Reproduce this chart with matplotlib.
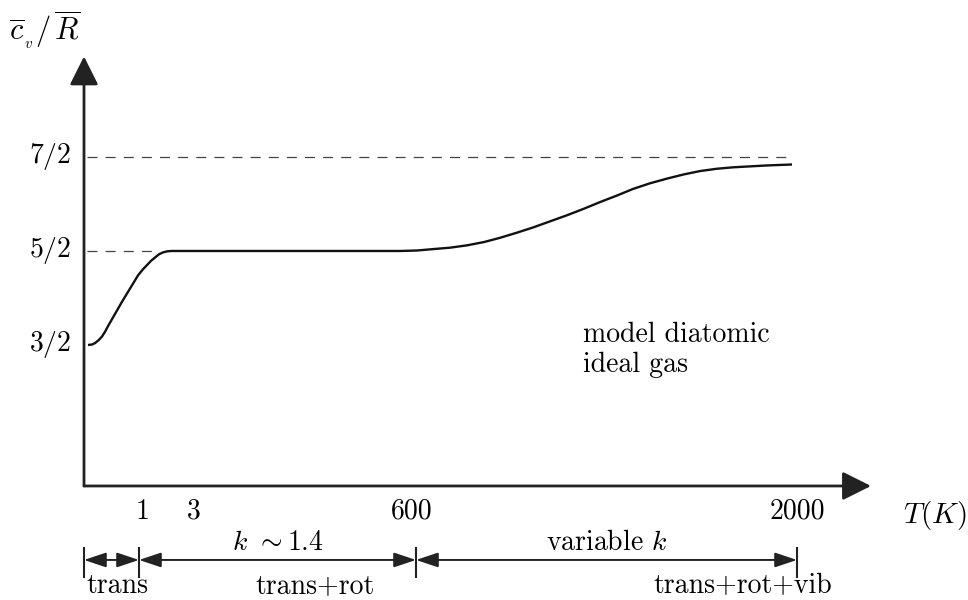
import matplotlib
matplotlib.use("Agg")
import matplotlib.pyplot as plt

# schematic x position (diagram units) and cv/R value of the curve
curve_x = [0.04, 0.08, 0.11, 0.145, 0.18, 0.21, 0.24, 0.275, 0.31, 0.345, 0.38, 0.42,
           0.46, 0.50, 0.54, 0.585, 0.63, 0.67, 0.71, 0.75, 0.79, 0.835, 0.88, 0.96,
           3.16, 3.33, 3.49, 3.66, 3.83, 4.00, 4.16, 4.33, 4.49, 4.66, 4.83, 5.00,
           5.16, 5.33, 5.49, 5.66, 5.83, 6.00, 6.16, 6.33, 6.49, 6.66, 6.83, 7.08]
curve_y = [1.50, 1.505, 1.52, 1.55, 1.59, 1.64, 1.70, 1.765, 1.83, 1.895, 1.96, 2.03,
           2.10, 2.17, 2.24, 2.30, 2.35, 2.395, 2.43, 2.465, 2.485, 2.497, 2.50, 2.50,
           2.50, 2.505, 2.52, 2.535, 2.56, 2.595, 2.64, 2.695, 2.75, 2.815, 2.88, 2.95,
           3.02, 3.09, 3.16, 3.22, 3.27, 3.315, 3.35, 3.375, 3.39, 3.40, 3.41, 3.42]

level_values = [1.5, 2.5, 3.5]
level_labels = ["$3/2$", "$5/2$", "$7/2$"]

T_labels = ["1", "3", "600", "2000"]
T_label_pos = [0.59, 1.10, 3.28, 7.13]

region_bounds = [0.0, 0.55, 3.32, 7.13]
region_k = ["", r"$k$ $\sim$1.4", "variable $k$"]
region_modes = ["trans", "trans+rot", "trans+rot+vib"]


def main():
    plt.rcParams["font.family"] = ["cmr10", "DejaVu Serif"]
    plt.rcParams["mathtext.fontset"] = "cm"
    plt.rcParams["axes.formatter.use_mathtext"] = True
    size = 20

    fig = plt.figure(figsize=(9.68, 6), dpi=100)
    ax = fig.add_axes([0, 0, 1, 1])
    ax.set_xlim(-0.84, 8.84)
    ax.set_ylim(-1.213, 5.170)
    ax.axis("off")

    # axes with arrow heads
    ax.annotate("", xy=(7.87, 0), xytext=(0, 0),
                arrowprops=dict(arrowstyle="-|>,head_length=0.8,head_width=0.4",
                                lw=2, color="#222222", mutation_scale=22,
                                shrinkA=0, shrinkB=0))
    ax.annotate("", xy=(0, 4.57), xytext=(0, 0),
                arrowprops=dict(arrowstyle="-|>,head_length=0.8,head_width=0.4",
                                lw=2, color="#222222", mutation_scale=22,
                                shrinkA=0, shrinkB=0))

    # dashed reference levels
    ax.plot([0.03, 0.68], [level_values[1], level_values[1]], color="#444444",
            lw=0.9, dashes=[8, 6.5])
    ax.plot([0.03, 7.06], [level_values[2], level_values[2]], color="#444444",
            lw=0.9, dashes=[8, 6.5])

    ax.plot(curve_x, curve_y, color="#111111", lw=1.7, solid_capstyle="butt",
            solid_joinstyle="round")

    for v, lab in zip(level_values, level_labels):
        ax.text(-0.13, v, lab, ha="right", va="center", fontsize=size)

    for p, lab in zip(T_label_pos, T_labels):
        ax.text(p, -0.27, lab, ha="center", va="center", fontsize=size)

    ax.text(8.51, -0.31, "$T(K)$", ha="center", va="center", fontsize=size + 1)
    ax.text(-0.39, 4.85, r"$\overline{c}_{_v}/\,\overline{R}$", ha="center",
            va="center", fontsize=size + 2)

    ax.text(4.99, 1.45, "model diatomic\nideal gas", ha="left", va="center",
            fontsize=size, linespacing=1.15)

    # regime arrows below the axis
    for b in region_bounds:
        ax.plot([b, b], [-0.66, -0.97], color="#222222", lw=1.5)
    for i in range(len(region_bounds) - 1):
        x0, x1 = region_bounds[i], region_bounds[i + 1]
        ax.annotate("", xy=(x1, -0.787), xytext=(x0, -0.787),
                    arrowprops=dict(arrowstyle="<|-|>,head_length=0.9,head_width=0.3",
                                    lw=1.4, color="#222222", mutation_scale=15,
                                    shrinkA=0, shrinkB=0))
        mid = (x0 + x1) / 2
        if region_k[i]:
            ax.text(mid, -0.61, region_k[i], ha="center", va="center", fontsize=size)
    mode_pos = [0.33, 2.31, 6.59]
    for p, lab in zip(mode_pos, region_modes):
        ax.text(p, -1.14, lab, ha="center", va="baseline", fontsize=size)

    fig.savefig("out.png", dpi=100)


if __name__ == "__main__":
    main()
